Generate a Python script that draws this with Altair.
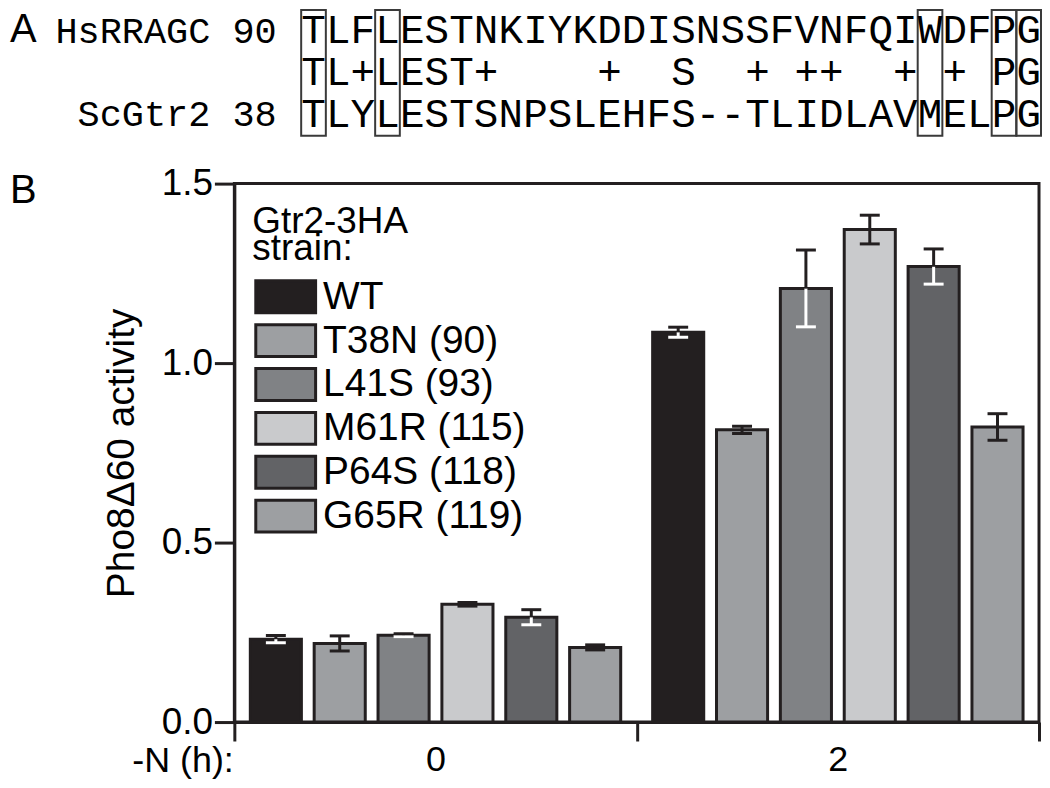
import altair as alt
import pandas as pd

# ---------------- Panel A: sequence alignment ----------------
seq_hs = "TLFLESTNKIYKDDISNSSFVNFQIWDFPG"
seq_cons = "TL+LEST+    +  S  + ++  + + PG"
seq_sc = "TLYLESTSNPSLEHFS--TLIDLAVMELPG"
row_labels = ["HsRRAGC 90", "", "ScGtr2 38"]
boxed_cols = [0, 3, 25, 28, 29]
panel_labels = ["A", "B"]

# ---------------- Panel B: Pho8Δ60 activity ----------------
times = ["0", "2"]
strains = ["WT", "T38N (90)", "L41S (93)", "M61R (115)", "P64S (118)", "G65R (119)"]
fill_colors = ["#231f20", "#9d9fa2", "#808285", "#c9cacc", "#626366", "#9d9fa2"]
mean_0h = [0.231, 0.219, 0.242, 0.328, 0.292, 0.208]
err_0h = [0.010, 0.021, 0.004, 0.005, 0.021, 0.007]
mean_2h = [1.086, 0.814, 1.208, 1.372, 1.269, 0.822]
err_2h = [0.014, 0.010, 0.107, 0.040, 0.049, 0.037]
lower_bar_color = ["white", "#231f20", "white", "#231f20", "white", "#231f20"]

INK = "#231f20"
SANS = "Liberation Sans"
MONO = "Liberation Mono"

# ---- panel A chart ----
recs = []
for r, s in enumerate([seq_hs, seq_cons, seq_sc]):
    for c, ch in enumerate(s):
        if ch != " ":
            recs.append({"row": r, "col": c, "ch": ch})
seq_df = pd.DataFrame(recs)
box_df = pd.DataFrame({"col": boxed_cols})

xs_a = alt.Scale(domain=[-3.21, 29.5], nice=False, zero=False)
ys_a = alt.Scale(domain=[-0.5, 2.5], reverse=True, nice=False, zero=False)
label_expr = "[" + ",".join("'" + t + "'" for t in row_labels) + "][datum.value]"


def row_axis():
    return alt.Axis(values=[0, 2], labelExpr=label_expr, ticks=False, domain=False, grid=False,
                    labelFont=MONO, labelFontSize=37, labelPadding=-42, labelLimit=0,
                    labelColor="black", title=None)


text_a = alt.Chart(seq_df).mark_text(
    font=MONO, fontSize=41, align="center", baseline="middle", color="black"
).encode(
    x=alt.X("col:Q", scale=xs_a, axis=None),
    y=alt.Y("row:Q", scale=ys_a, axis=row_axis()),
    text="ch:N",
)

boxes = alt.Chart(box_df).transform_calculate(
    x0="datum.col - 0.5", x1="datum.col + 0.5", y0="-0.5", y1="2.5"
).mark_rect(fill="transparent", stroke="#3a3a3a", strokeWidth=2).encode(
    x=alt.X("x0:Q", scale=xs_a, axis=None),
    x2="x1:Q",
    y=alt.Y("y0:Q", scale=ys_a, axis=row_axis()),
    y2="y1:Q",
)

label_a = alt.Chart(pd.DataFrame({"p": [panel_labels[0]]})).mark_text(
    font=SANS, fontSize=40, align="left", baseline="top", color="black"
).encode(text="p:N", x=alt.value(-225), y=alt.value(0))

top = alt.layer(boxes, text_a, label_a).properties(width=809, height=126)

# ---- panel B chart ----
bar_recs = []
for t, means, errs in zip(times, [mean_0h, mean_2h], [err_0h, err_2h]):
    for s, m, e, lc in zip(strains, means, errs, lower_bar_color):
        bar_recs.append({"time": t, "strain": s, "mean": m, "lo": m - e, "hi": m + e, "lowc": lc})
bar_df = pd.DataFrame(bar_recs)

x_axis = alt.Axis(labelAngle=0, tickBand="extent", tickSize=19, tickWidth=3, tickColor=INK,
                  domainColor=INK, domainWidth=3, labelFont=SANS, labelFontSize=36,
                  labelPadding=2, labelColor="black", grid=False,
                  title="-N (h):", titleFont=SANS, titleFontSize=36, titleFontWeight="normal",
                  titleColor="black", titleX=-1, titleY=39, titleAlign="right", titleBaseline="middle")
x_b = alt.X("time:N", sort=times, scale=alt.Scale(domain=times, paddingInner=0, paddingOuter=0), axis=x_axis)
xo = alt.XOffset("strain:N", sort=strains, scale=alt.Scale(domain=strains, paddingInner=0.2, paddingOuter=0.25))
ys_b = alt.Scale(domain=[0, 1.5], nice=False, zero=True)
y_axis = alt.Axis(values=[0, 0.5, 1.0, 1.5], format=".1f", grid=False, tickSize=20, tickWidth=3,
                  tickColor=INK, domainColor=INK, domainWidth=3, labelFont=SANS, labelFontSize=37,
                  labelPadding=2, labelColor="black", title="Pho8Δ60 activity", titleFont=SANS,
                  titleFontSize=39, titleFontWeight="normal", titleColor="black", titlePadding=20)

legend = alt.Legend(
    title=["Gtr2-3HA", "strain:"], orient="none", legendX=18, legendY=21, padding=0,
    symbolType="M-1,-1H2.75V1H-1Z", symbolSize=1024, symbolStrokeColor=INK, symbolStrokeWidth=3,
    symbolOpacity=1, labelFont=SANS, labelFontSize=39, labelColor="black", labelOffset=32,
    labelLimit=0, titleFont=SANS, titleFontSize=37, titleFontWeight="normal", titleColor="black",
    titleLineHeight=27, titlePadding=9, rowPadding=-1, titleLimit=0,
)

base = alt.Chart(bar_df)
bars = base.mark_bar(stroke=INK, strokeWidth=3).encode(
    x=x_b, xOffset=xo,
    y=alt.Y("mean:Q", scale=ys_b, axis=y_axis),
    fill=alt.Fill("strain:N", scale=alt.Scale(domain=strains, range=fill_colors), legend=legend),
)
lower_rule = base.mark_rule(strokeWidth=3).encode(
    x=x_b, xOffset=xo, y=alt.Y("lo:Q", scale=ys_b), y2="mean:Q",
    color=alt.Color("lowc:N", scale=None),
)
lower_cap = base.mark_tick(size=20, thickness=3, opacity=1).encode(
    x=x_b, xOffset=xo, y=alt.Y("lo:Q", scale=ys_b),
    color=alt.Color("lowc:N", scale=None),
)
upper_rule = base.mark_rule(strokeWidth=3, color=INK).encode(
    x=x_b, xOffset=xo, y=alt.Y("mean:Q", scale=ys_b), y2="hi:Q",
)
upper_cap = base.mark_tick(size=20, thickness=3, opacity=1, color=INK).encode(
    x=x_b, xOffset=xo, y=alt.Y("hi:Q", scale=ys_b),
)
label_b = alt.Chart(pd.DataFrame({"p": [panel_labels[1]]})).mark_text(
    font=SANS, fontSize=40, align="left", baseline="alphabetic", color="black"
).encode(text="p:N", x=alt.value(-225), y=alt.value(19))

bottom = alt.layer(bars, lower_rule, lower_cap, upper_rule, upper_cap, label_b).properties(
    width=807, height=540,
    view=alt.ViewBackground(stroke=INK, strokeWidth=3),
)

chart = alt.vconcat(top, bottom, spacing=26).resolve_scale(
    fill="independent"
).resolve_legend(fill="independent").properties(padding=0).configure(
    font=SANS
).configure_view(strokeWidth=0)

chart.save("out.html", embed_options={"renderer": "svg", "actions": False})
